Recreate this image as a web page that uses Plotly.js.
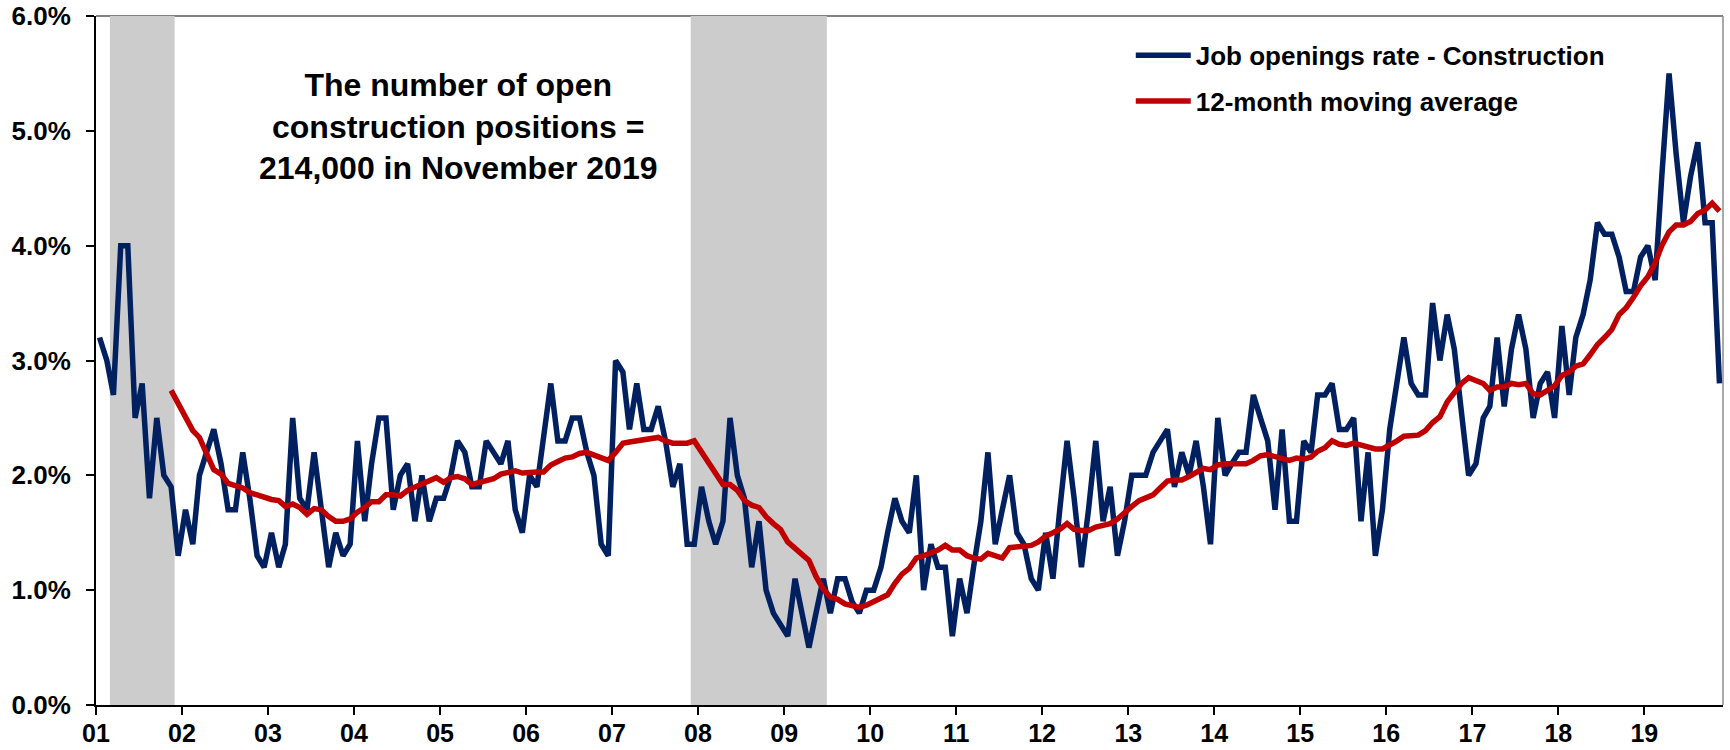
<!DOCTYPE html>
<html>
<head>
<meta charset="utf-8">
<script src="https://cdn.plot.ly/plotly-3.0.1.min.js"></script>
<style>
  html, body { margin: 0; padding: 0; background: #ffffff; }
  #chart { width: 1730px; height: 750px; }
</style>
</head>
<body>
<div id="chart"></div>
<script>
// ---- Data (monthly, Jan 2001 .. Nov 2019), percent ----
const firstMonth = '2001-01';
const jobOpeningsRate = [
  3.2, 3.0, 2.7, 4.0, 4.0, 2.5, 2.8, 1.8, 2.5, 2.0, 1.9, 1.3,   // 2001
  1.7, 1.4, 2.0, 2.2, 2.4, 2.1, 1.7, 1.7, 2.2, 1.8, 1.3, 1.2,   // 2002
  1.5, 1.2, 1.4, 2.5, 1.8, 1.7, 2.2, 1.7, 1.2, 1.5, 1.3, 1.4,   // 2003
  2.3, 1.6, 2.1, 2.5, 2.5, 1.7, 2.0, 2.1, 1.6, 2.0, 1.6, 1.8,   // 2004
  1.8, 2.0, 2.3, 2.2, 1.9, 1.9, 2.3, 2.2, 2.1, 2.3, 1.7, 1.5,   // 2005
  2.0, 1.9, 2.3, 2.8, 2.3, 2.3, 2.5, 2.5, 2.2, 2.0, 1.4, 1.3,   // 2006
  3.0, 2.9, 2.4, 2.8, 2.4, 2.4, 2.6, 2.3, 1.9, 2.1, 1.4, 1.4,   // 2007
  1.9, 1.6, 1.4, 1.6, 2.5, 2.0, 1.8, 1.2, 1.6, 1.0, 0.8, 0.7,   // 2008
  0.6, 1.1, 0.8, 0.5, 0.8, 1.1, 0.8, 1.1, 1.1, 0.9, 0.8, 1.0,   // 2009
  1.0, 1.2, 1.5, 1.8, 1.6, 1.5, 2.0, 1.0, 1.4, 1.2, 1.2, 0.6,   // 2010
  1.1, 0.8, 1.2, 1.6, 2.2, 1.4, 1.7, 2.0, 1.5, 1.4, 1.1, 1.0,   // 2011
  1.5, 1.1, 1.7, 2.3, 1.8, 1.2, 1.7, 2.3, 1.6, 1.9, 1.3, 1.6,   // 2012
  2.0, 2.0, 2.0, 2.2, 2.3, 2.4, 1.9, 2.2, 2.0, 2.3, 1.9, 1.4,   // 2013
  2.5, 2.0, 2.1, 2.2, 2.2, 2.7, 2.5, 2.3, 1.7, 2.4, 1.6, 1.6,   // 2014
  2.3, 2.2, 2.7, 2.7, 2.8, 2.4, 2.4, 2.5, 1.6, 2.2, 1.3, 1.7,   // 2015
  2.4, 2.8, 3.2, 2.8, 2.7, 2.7, 3.5, 3.0, 3.4, 3.1, 2.5, 2.0,   // 2016
  2.1, 2.5, 2.6, 3.2, 2.6, 3.1, 3.4, 3.1, 2.5, 2.8, 2.9, 2.5,   // 2017
  3.3, 2.7, 3.2, 3.4, 3.7, 4.2, 4.1, 4.1, 3.9, 3.6, 3.6, 3.9,   // 2018
  4.0, 3.7, 4.6, 5.5, 4.8, 4.2, 4.6, 4.9, 4.2, 4.2, 2.8         // 2019 (Jan-Nov)
];

// 12-month moving average as drawn (starts Nov 2001)
const movingAverageStart = '2001-11';
const movingAverage = [
  2.74, 2.62,                                                               // 2001 Nov-Dec
  2.51, 2.39, 2.33, 2.18, 2.05, 2.01, 1.93, 1.91, 1.89, 1.85, 1.83, 1.80,   // 2002
  1.79, 1.78, 1.73, 1.75, 1.72, 1.66, 1.71, 1.70, 1.64, 1.60, 1.60, 1.62,   // 2003
  1.68, 1.72, 1.77, 1.77, 1.83, 1.83, 1.82, 1.87, 1.90, 1.93, 1.96, 1.98,   // 2004
  1.94, 1.98, 1.99, 1.97, 1.92, 1.94, 1.96, 1.97, 2.01, 2.03, 2.04, 2.02,   // 2005
  2.03, 2.03, 2.03, 2.09, 2.12, 2.15, 2.16, 2.19, 2.20, 2.18, 2.15, 2.13,   // 2006
  2.20, 2.28, 2.29, 2.30, 2.30, 2.31, 2.33, 2.30, 2.28, 2.28, 2.28, 2.30,   // 2007
  2.20, 2.10, 2.01, 1.92, 1.92, 1.87, 1.78, 1.74, 1.72, 1.64, 1.58, 1.53,   // 2008
  1.42, 1.37, 1.31, 1.26, 1.12, 1.01, 0.94, 0.92, 0.88, 0.86, 0.85, 0.87,   // 2009
  0.90, 0.92, 0.96, 1.06, 1.14, 1.19, 1.28, 1.30, 1.32, 1.35, 1.39, 1.35,   // 2010
  1.35, 1.30, 1.28, 1.27, 1.32, 1.30, 1.28, 1.37, 1.38, 1.39, 1.39, 1.42,   // 2011
  1.47, 1.50, 1.53, 1.58, 1.53, 1.52, 1.52, 1.55, 1.56, 1.58, 1.62, 1.68,   // 2012
  1.73, 1.78, 1.80, 1.83, 1.89, 1.95, 1.96, 1.96, 1.99, 2.03, 2.06, 2.05,   // 2013
  2.09, 2.10, 2.10, 2.10, 2.10, 2.13, 2.17, 2.18, 2.16, 2.15, 2.13, 2.15,   // 2014
  2.14, 2.16, 2.21, 2.24, 2.30, 2.27, 2.26, 2.28, 2.26, 2.25, 2.23, 2.23,   // 2015
  2.26, 2.30, 2.34, 2.34, 2.35, 2.39, 2.46, 2.51, 2.64, 2.72, 2.80, 2.85,   // 2016
  2.83, 2.80, 2.74, 2.77, 2.77, 2.80, 2.79, 2.80, 2.71, 2.70, 2.74, 2.78,   // 2017
  2.87, 2.90, 2.95, 2.97, 3.05, 3.14, 3.20, 3.27, 3.40, 3.46, 3.55, 3.65,   // 2018
  3.73, 3.85, 4.00, 4.12, 4.18, 4.18, 4.21, 4.28, 4.31, 4.37, 4.30          // 2019
];

const yearLabels = ['01','02','03','04','05','06','07','08','09','10',
                    '11','12','13','14','15','16','17','18','19'];
const yTickValues = [0, 1, 2, 3, 4, 5, 6];
const yTickLabels = ['0.0%','1.0%','2.0%','3.0%','4.0%','5.0%','6.0%'];
const recessions = [['2001-03-01', '2001-12-01'], ['2007-12-01', '2009-07-01']];
const seriesNames = ['Job openings rate - Construction', '12-month moving average'];
const noteText = 'The number of open<br>construction positions =<br>214,000 in November 2019';

// ---- helpers: month index -> mid-month date string ----
function monthDates(start, n) {
  const [y0, m0] = start.split('-').map(Number);
  const out = [];
  for (let i = 0; i < n; i++) {
    const t = (m0 - 1) + i;
    const y = y0 + Math.floor(t / 12);
    const m = (t % 12) + 1;
    out.push(y + '-' + String(m).padStart(2, '0') + '-16');
  }
  return out;
}
const tickDates = yearLabels.map(l => '20' + l + '-01-01');

const FONT = '"Liberation Sans", Arial, Helvetica, sans-serif';

const traces = [
  {
    type: 'scatter', mode: 'lines', name: seriesNames[0],
    x: monthDates(firstMonth, jobOpeningsRate.length), y: jobOpeningsRate,
    line: { color: '#002060', width: 5.5 },
    legendgroup: 'a', hoverinfo: 'skip'
  },
  {
    type: 'scatter', mode: 'lines', name: seriesNames[1],
    x: monthDates(movingAverageStart, movingAverage.length), y: movingAverage,
    line: { color: '#C00000', width: 5.5 },
    legendgroup: 'b', hoverinfo: 'skip'
  }
];

const shapes = [
  // top & right frame lines
  { type: 'line', xref: 'paper', yref: 'paper', x0: 0, x1: 1, y0: 1, y1: 1,
    line: { color: '#595959', width: 1.5 }, layer: 'below' },
  { type: 'line', xref: 'paper', yref: 'paper', x0: 1, x1: 1, y0: 0, y1: 1,
    line: { color: '#8c8c8c', width: 1.5 }, layer: 'below' }
].concat(recessions.map(r => ({
  type: 'rect', xref: 'x', yref: 'paper', x0: r[0], x1: r[1], y0: 0, y1: 1,
  fillcolor: '#CCCCCC', line: { width: 0 }, layer: 'below'
})));

const layout = {
  width: 1730, height: 750,
  margin: { l: 96, r: 7, t: 16, b: 45, pad: 0 },
  paper_bgcolor: '#ffffff', plot_bgcolor: '#ffffff',
  font: { family: FONT, color: '#000000', size: 25, weight: 700 },
  showlegend: true,
  legend: {
    x: 0.636, xanchor: 'left', y: 0.977, yanchor: 'top',
    bgcolor: 'rgba(0,0,0,0)', borderwidth: 0,
    font: { family: FONT, size: 26, color: '#000000', weight: 700 },
    tracegroupgap: 9, itemwidth: 55
  },
  xaxis: {
    type: 'date', range: ['2001-01-01', '2019-12-01'],
    tickmode: 'array', tickvals: tickDates, ticktext: yearLabels,
    ticks: 'outside', ticklen: 8, tickwidth: 2, tickcolor: '#000000',
    showline: true, linecolor: '#000000', linewidth: 2,
    showgrid: false, zeroline: false,
    tickfont: { family: FONT, size: 25, color: '#000000', weight: 700 },
    ticklabelstandoff: -3,
    fixedrange: true
  },
  yaxis: {
    range: [0, 6], tickmode: 'array', tickvals: yTickValues, ticktext: yTickLabels,
    ticks: 'outside', ticklen: 8, tickwidth: 2, tickcolor: '#000000',
    showline: true, linecolor: '#000000', linewidth: 2,
    showgrid: false, zeroline: false,
    tickfont: { family: FONT, size: 26, color: '#000000', weight: 700 },
    ticklabelstandoff: 10,
    fixedrange: true
  },
  shapes: shapes,
  annotations: [{
    xref: 'paper', yref: 'paper', x: 0.2225, y: 0.84,
    xanchor: 'center', yanchor: 'middle', align: 'center',
    text: noteText, showarrow: false,
    font: { family: FONT, size: 32, color: '#000000', weight: 700 }
  }]
};

Plotly.newPlot('chart', traces, layout, { staticPlot: true, displayModeBar: false });
</script>
</body>
</html>
